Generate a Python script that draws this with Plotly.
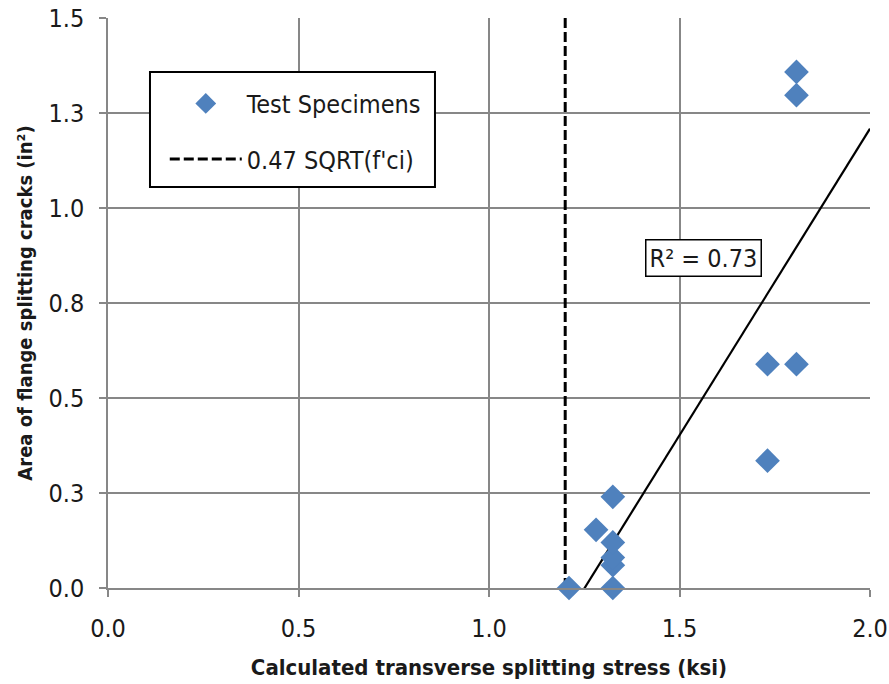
import numpy as np
import plotly.graph_objects as go

# ---- data ----
stress = [1.21, 1.325, 1.325, 1.325, 1.325, 1.281, 1.325, 1.731, 1.731, 1.807, 1.807, 1.807]
area = [0.0, 0.0, 0.06, 0.08, 0.12, 0.153, 0.24, 0.335, 0.589, 0.589, 1.297, 1.358]
limit_stress = 1.20          # 0.47 SQRT(f'ci)
r2_label = "R² = 0.73"
x_ticks = [0.0, 0.5, 1.0, 1.5, 2.0]
x_ticktext = ["0.0", "0.5", "1.0", "1.5", "2.0"]
y_ticks = [0.0, 0.25, 0.5, 0.75, 1.0, 1.25, 1.5]
y_ticktext = ["0.0", "0.3", "0.5", "0.8", "1.0", "1.3", "1.5"]
x_range = [0.0, 2.0]
y_range = [0.0, 1.5]

FONT = "DejaVu Sans Condensed, sans-serif"
GRID = "#878787"
TXT = "#1a1a1a"

slope, intercept = np.polyfit(stress, area, 1)
fit_x = np.array([min(stress), x_range[1]])
fit_y = slope * fit_x + intercept

fig = go.Figure()
fig.add_trace(go.Scatter(
    x=[limit_stress, limit_stress], y=y_range, mode="lines", name="0.47 SQRT(f'ci)",
    line=dict(color="black", width=3, dash="10px,4px"), legendgroup="b", legendrank=2,
))
fig.add_trace(go.Scatter(
    x=fit_x, y=fit_y, mode="lines", showlegend=False,
    line=dict(color="black", width=2.2),
))
fig.add_trace(go.Scatter(
    x=stress, y=area, mode="markers", name="Test Specimens",
    marker=dict(symbol="diamond", size=19, color="#4F81BD", line=dict(width=0)),
    legendgroup="a", legendrank=1, cliponaxis=False,
))

fig.add_annotation(
    x=1.562, y=0.868, xref="x", yref="y", text=r2_label, showarrow=False,
    font=dict(family=FONT, size=25, color=TXT),
    bgcolor="white", bordercolor="black", borderwidth=1.5, borderpad=3,
)

# legend frame
fig.add_shape(type="rect", xref="paper", yref="paper",
              x0=0.0551, x1=0.4291, y0=0.7035, y1=0.9053,
              line=dict(color="black", width=2), fillcolor="white", layer="above")

fig.update_layout(
    width=889, height=684,
    margin=dict(l=108, r=19, t=18, b=96),
    paper_bgcolor="white", plot_bgcolor="white",
    font=dict(family=FONT, size=25, color=TXT),
    showlegend=True,
    legend=dict(
        x=0.0745, y=0.89, xanchor="left", yanchor="top",
        bgcolor="rgba(0,0,0,0)", borderwidth=0,
        font=dict(family=FONT, size=25, color=TXT),
        traceorder="grouped", tracegroupgap=20, itemwidth=72,
    ),
    xaxis=dict(
        range=x_range, tickvals=x_ticks, ticktext=x_ticktext, automargin=False,
        showgrid=True, gridcolor=GRID, gridwidth=1.5,
        showline=True, linecolor=GRID, linewidth=1.5,
        ticks="outside", ticklen=7, tickcolor=GRID, tickwidth=1.5,
        zeroline=False, ticklabelstandoff=10,
        title=dict(text="<b>Calculated transverse splitting stress (ksi)</b>",
                   font=dict(family=FONT, size=22, color=TXT), standoff=18),
    ),
    yaxis=dict(
        range=y_range, tickvals=y_ticks, ticktext=y_ticktext, automargin=False,
        showgrid=True, gridcolor=GRID, gridwidth=1.5,
        showline=True, linecolor=GRID, linewidth=1.5,
        ticks="outside", ticklen=7, tickcolor=GRID, tickwidth=1.5,
        zeroline=False, ticklabelstandoff=10,
        title=dict(text="<b>Area of flange splitting cracks (in²)</b>",
                   font=dict(family=FONT, size=20, color=TXT), standoff=10),
    ),
)

fig.write_html("out.html")
